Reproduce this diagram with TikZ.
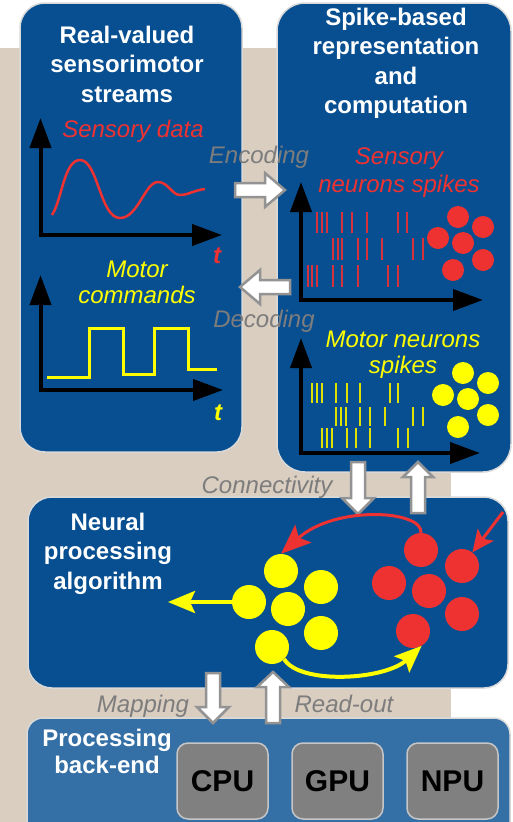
\documentclass[tikz,border=0pt]{standalone}
\usepackage{fontspec}
\setmainfont{Liberation Sans}
\usetikzlibrary{arrows.meta}
\definecolor{boxblue}{RGB}{7,79,145}
\definecolor{backblue}{RGB}{52,111,165}
\definecolor{parch}{RGB}{218,206,193}
\definecolor{lblgrey}{RGB}{125,125,125}
\definecolor{nred}{RGB}{238,50,50}
\definecolor{nyel}{RGB}{255,255,0}
\definecolor{spred}{RGB}{215,50,60}
\definecolor{spyel}{RGB}{225,225,0}
\definecolor{chipgrey}{RGB}{128,128,128}
\begin{document}
\begin{tikzpicture}[x=1pt,y=-1pt,
  panel/.style={fill=boxblue, draw=white!85!black, line width=1.5pt},
  title/.style={text=white, font=\fontsize{24}{29.5}\selectfont\bfseries, align=center, anchor=north, inner sep=0pt},
  plotlbl/.style={font=\fontsize{24}{26}\selectfont\itshape, align=center, anchor=north, inner sep=0pt},
  tlbl/.style={font=\fontsize{24}{26}\selectfont\bfseries\itshape, anchor=base, inner sep=0pt},
  flowlbl/.style={text=lblgrey, font=\fontsize{24}{26}\selectfont\itshape, anchor=base, inner sep=0pt},
  axes/.style={line width=4pt, line join=miter, {Triangle[length=30pt,width=21pt]}-{Triangle[length=30pt,width=21pt]}},
  spkr/.style={draw=spred, line width=2pt},
  spky/.style={draw=spyel, line width=2pt},
  neurr/.style={circle, fill=nred, inner sep=0pt},
  neury/.style={circle, fill=nyel, inner sep=0pt},
  hollow/.style={fill=white, draw=gray!85, line width=2.5pt, line join=miter},
  chip/.style={fill=chipgrey, draw=gray!45, line width=1.5pt, rounded corners=11pt, minimum width=91pt, minimum height=76pt, font=\fontsize{30}{30}\selectfont\bfseries, text=black},
  redarr/.style={draw=nred, line width=3pt, -{Stealth[length=30pt,width=24pt,inset=6pt]}},
  redarrs/.style={draw=nred, line width=3pt, -{Stealth[length=22pt,width=20pt,inset=5pt]}},
  yelarr/.style={draw=nyel, line width=4pt, -{Stealth[length=27pt,width=22pt,inset=5pt]}}
]
\useasboundingbox (0,0) rectangle (512,822);
\clip (0,0) rectangle (512,822);
\fill[white] (0,0) rectangle (512,822);
\fill[parch] (0,48) rectangle (451,822);

% panels
\draw[panel, rounded corners=25pt] (20,3) rectangle (242,452);
\draw[panel, rounded corners=28pt] (277,3) rectangle (511,472);
\draw[panel, rounded corners=24pt] (28,497) rectangle (508,688);
\draw[fill=backblue, draw=white!85!black, line width=1.5pt, rounded corners=16pt] (27,718) rectangle (510,850);

% titles
\node[title] (t1) at (127,25.8) {Real-valued\\sensorimotor\\streams};
\node[title] (t2) at (396,7.5) {Spike-based\\representation\\and\\computation};
\node[title] (t3) at (108,512.8) {Neural\\processing\\algorithm};
\node[title, font=\fontsize{24}{27}\selectfont\bfseries] (t4) at (107,728.8) {Processing\\back-end};

% left: sensory data plot
\node[plotlbl, text=nred] (sdl) at (133,119.5) {Sensory data};
\draw[axes] (40.5,118) -- (40.5,235) -- (222,235);
\draw[nred, line width=2.5pt] (52,215) .. controls (62,200) and (64,160) .. (80,160)
  .. controls (98,160) and (100,218) .. (120,218)
  .. controls (138,218) and (145,182) .. (158,182)
  .. controls (168,182) and (172,195) .. (180,195)
  .. controls (188,195) and (195,190) .. (205,189);
\node[tlbl, text=nred] (st) at (217,263) {t};

% left: motor commands plot
\node[plotlbl, text=nyel] (mcl) at (137,260.8) {Motor\\commands};
\draw[axes] (40.5,275) -- (40.5,390) -- (223,390);
\draw[nyel, line width=3pt] (47,377) -- (89,377) -- (89,328) -- (123,328) -- (123,374) -- (154,374) -- (154,328) -- (188,328) -- (188,369) -- (217,369);
\node[tlbl, text=nyel] (mt) at (218,420) {t};

% right: sensory spikes
\node[plotlbl, text=nred, font=\fontsize{24}{28}\selectfont\itshape] (snl) at (399,147.5) {Sensory\\neurons spikes};
\draw[axes] (301,182) -- (301,300) -- (483,300);
\foreach \x in {317,322,327,342,352,367,398,407} \draw[spkr] (\x,212) -- (\x,233);
\foreach \x in {333,338,342,358,367,382,413,423} \draw[spkr] (\x,238) -- (\x,260);
\foreach \x in {308,312,317,333,342,358,388,398} \draw[spkr] (\x,265) -- (\x,287);
\node[neurr, minimum size=22pt] (sr1) at (458,217) {};
\node[neurr, minimum size=22pt] (sr2) at (483,227) {};
\node[neurr, minimum size=22pt] (sr3) at (438,238) {};
\node[neurr, minimum size=22pt] (sr4) at (463,243) {};
\node[neurr, minimum size=22pt] (sr5) at (483,260) {};
\node[neurr, minimum size=22pt] (sr6) at (453,270) {};

% right: motor spikes
\node[plotlbl, text=nyel] (mnl) at (403,330.8) {Motor neurons\\spikes};
\draw[axes] (301,338) -- (301,453) -- (480,453);
\foreach \x in {312,317,322,336,347,360,390,398} \draw[spky] (\x,383) -- (\x,403);
\foreach \x in {336,341,346,360,370,385,413,423} \draw[spky] (\x,407) -- (\x,426);
\foreach \x in {322,327,332,347,356,370,398,408} \draw[spky] (\x,428) -- (\x,448);
\node[neury, minimum size=22pt] (sy1) at (463,373) {};
\node[neury, minimum size=22pt] (sy2) at (488,383) {};
\node[neury, minimum size=22pt] (sy3) at (443,395) {};
\node[neury, minimum size=22pt] (sy4) at (468,399) {};
\node[neury, minimum size=22pt] (sy5) at (488,415) {};
\node[neury, minimum size=22pt] (sy6) at (458,427) {};

% encoding / decoding
\node[flowlbl] (enc) at (259,163) {Encoding};
\node[flowlbl] (dec) at (264,327) {Decoding};
\draw[hollow] (235,183) -- (265,183) -- (265,173) -- (285,190) -- (265,207) -- (265,197) -- (235,197) -- cycle;
\draw[hollow] (290,280) -- (260,280) -- (260,270) -- (240,287) -- (260,304) -- (260,294) -- (290,294) -- cycle;

% connectivity
\node[flowlbl] (con) at (267,493) {Connectivity};
\draw[hollow] (351,462) -- (351,498) -- (342,498) -- (358,514) -- (374,498) -- (365,498) -- (365,462) -- cycle;
\draw[hollow] (411,513) -- (411,477) -- (403,477) -- (418,462) -- (433,477) -- (425,477) -- (425,513) -- cycle;

% neural processing
\node[neury, minimum size=34pt] (y1) at (281,571) {};
\node[neury, minimum size=34pt] (y2) at (321,587) {};
\node[neury, minimum size=34pt] (y3) at (249,602) {};
\node[neury, minimum size=34pt] (y4) at (288,609) {};
\node[neury, minimum size=34pt] (y5) at (321,633) {};
\node[neury, minimum size=34pt] (y6) at (272,647) {};
\node[neurr, minimum size=34pt] (r1) at (421,550) {};
\node[neurr, minimum size=34pt] (r2) at (462,566) {};
\node[neurr, minimum size=34pt] (r3) at (389,583) {};
\node[neurr, minimum size=34pt] (r4) at (429,591) {};
\node[neurr, minimum size=34pt] (r5) at (462,614) {};
\node[neurr, minimum size=34pt] (r6) at (413,631) {};
\coordinate (rin) at (503,512);
\coordinate (yout) at (168,602);
\draw[redarr] (r1.north) .. controls (423,510) and (335,505) .. (y1.north);
\draw[redarrs] (rin) -- (r2);
\draw[yelarr] (y6.-45) .. controls (300,685) and (385,680) .. (r6.-60);
\draw[yelarr] (y3) -- (yout);

% mapping / read-out
\node[flowlbl] (map) at (143,712) {Mapping};
\node[flowlbl] (rdo) at (344,712) {Read-out};
\draw[hollow] (206,673) -- (206,707) -- (197,707) -- (213,723) -- (229,707) -- (220,707) -- (220,673) -- cycle;
\draw[hollow] (266,723) -- (266,687) -- (257,687) -- (273,672) -- (289,687) -- (280,687) -- (280,723) -- cycle;

% back-end chips
\node[chip] (cpu) at (222.5,781) {CPU};
\node[chip] (gpu) at (337.5,781) {GPU};
\node[chip] (npu) at (452.5,781) {NPU};
\end{tikzpicture}
\end{document}
